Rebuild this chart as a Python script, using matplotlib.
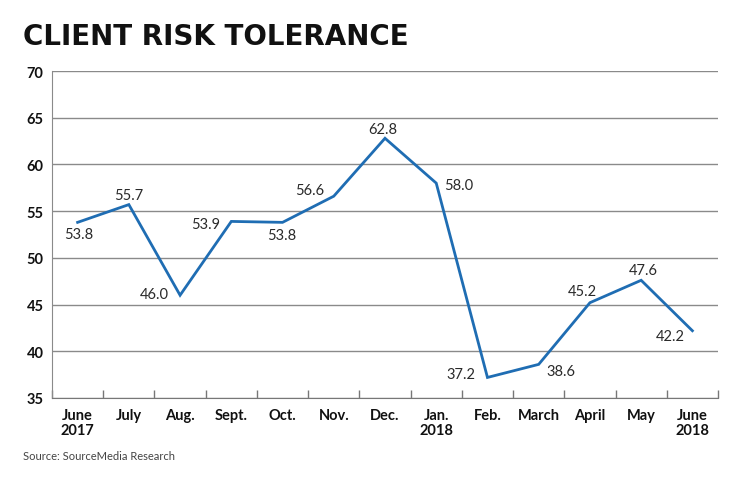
import matplotlib.pyplot as plt
import numpy as np

months = ["June\n2017", "July", "Aug.", "Sept.", "Oct.", "Nov.", "Dec.",
          "Jan.\n2018", "Feb.", "March", "April", "May", "June\n2018"]
tolerance = [53.8, 55.7, 46.0, 53.9, 53.8, 56.6, 62.8,
             58.0, 37.2, 38.6, 45.2, 47.6, 42.2]

# label offsets in pixels (dx, dy) from each point
label_offsets = [(1, -12), (0, 10), (-26, 1), (-26, -3), (-1, -13), (-24, 6),
                 (-2, 9), (22, -2), (-27, 3), (22, -7), (-8, 12), (2, 10),
                 (-22, -5)]

plt.rcParams['font.family'] = ['Lato', 'DejaVu Sans']

fig = plt.figure(figsize=(7.4, 5.02), dpi=100)
ax = fig.add_axes([52 / 740, 1 - 399 / 502, 666 / 740, 327 / 502])

x = np.arange(len(months))
ax.plot(x, tolerance, color="#1f6db3", linewidth=2.0, zorder=3,
        solid_joinstyle="miter")

for xi, val, (dx, dy) in zip(x, tolerance, label_offsets):
    ax.annotate(f"{val:.1f}", (xi, val), xytext=(dx, dy),
                textcoords="offset pixels", ha="center", va="center",
                fontsize=10.5, color="#2a2a2a")

ax.set_xlim(-0.5, len(months) - 0.5)
ax.set_ylim(35, 70)
ax.set_yticks(range(35, 71, 5))
ax.yaxis.grid(True, color="#8a8a8a", linewidth=1.0)
ax.set_axisbelow(True)

ax.set_xticks(x)
ax.set_xticklabels(months, fontsize=10.5, fontweight="bold", color="#111111",
                   linespacing=1.15)
ax.set_xticks(np.arange(-0.5, len(months)), minor=True)
ax.tick_params(axis="x", which="major", length=0, pad=7)
ax.tick_params(axis="x", which="minor", direction="in", length=6,
               color="#777777", width=1)
ax.tick_params(axis="y", length=0, pad=6, labelsize=10.5, labelcolor="#111111")
for lab in ax.get_yticklabels():
    lab.set_fontweight("bold")

for side in ["top", "right"]:
    ax.spines[side].set_visible(False)
ax.spines["left"].set_color("#8a8a8a")
ax.spines["bottom"].set_color("#777777")

fig.text(23 / 740, 1 - 37 / 502, "CLIENT RISK TOLERANCE", fontsize=20,
         fontweight="bold", color="#111111", va="center", ha="left",
         family="DejaVu Sans")
fig.text(23 / 740, 1 - 457 / 502, "Source: SourceMedia Research", fontsize=8,
         color="#444444", va="center", ha="left")

plt.savefig("out.png", dpi=100)
